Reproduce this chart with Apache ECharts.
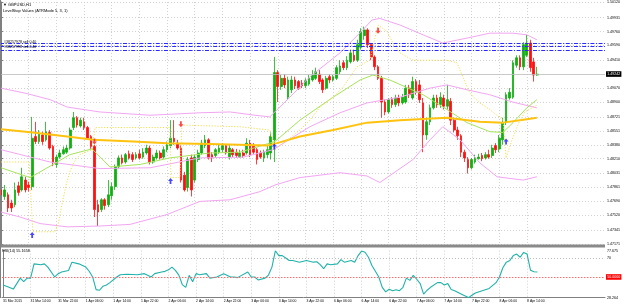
<!DOCTYPE html>
<html>
<head>
<meta charset="utf-8">
<script src="https://cdn.jsdelivr.net/npm/echarts@6/dist/echarts.min.js"></script>
<style>
html, body { margin: 0; padding: 0; background: #fff; }
#chart { width: 625px; height: 307px; }
</style>
</head>
<body>
<div id="chart"></div>
<script>
// GBPUSD H1 bars, the bar number is the position in the arrays
var barOpen = [1.4783,1.4775,1.4777,1.4767,1.4765,1.4788,1.4783,1.4795,1.4789,1.4787,
  1.4848,1.4842,1.4850,1.4844,1.4853,1.4836,1.4814,1.4823,1.4827,1.4829,
  1.4834,1.4859,1.4871,1.4861,1.4866,1.4859,1.4848,1.4836,1.4765,1.4759,
  1.4771,1.4765,1.4776,1.4787,1.4811,1.4822,1.4817,1.4827,1.4826,1.4822,
  1.4827,1.4823,1.4828,1.4834,1.4817,1.4822,1.4828,1.4823,1.4832,1.4837,
  1.4846,1.4840,1.4834,1.4801,1.4786,1.4822,1.4795,1.4820,1.4828,1.4837,
  1.4844,1.4826,1.4825,1.4829,1.4832,1.4837,1.4823,1.4832,1.4829,1.4823,
  1.4828,1.4828,1.4840,1.4837,1.4832,1.4828,1.4822,1.4826,1.4828,1.4844,
  1.4926,1.4909,1.4919,1.4896,1.4905,1.4917,1.4915,1.4913,1.4910,1.4912,
  1.4917,1.4919,1.4924,1.4917,1.4907,1.4921,1.4917,1.4919,1.4927,1.4938,
  1.4932,1.4939,1.4947,1.4941,1.4957,1.4971,1.4978,1.4960,1.4945,1.4933,
  1.4919,1.4890,1.4878,1.4893,1.4887,1.4895,1.4889,1.4890,1.4907,1.4895,
  1.4915,1.4911,1.4889,1.4850,1.4866,1.4883,1.4895,1.4887,1.4895,1.4885,
  1.4891,1.4868,1.4856,1.4849,1.4829,1.4820,1.4810,1.4817,1.4821,1.4825,
  1.4822,1.4826,1.4825,1.4837,1.4833,1.4844,1.4865,1.4895,1.4896,1.4935,
  1.4944,1.4933,1.4947,1.4962,1.4939,1.4923];
var barClose = [1.4777,1.4783,1.4761,1.4761,1.4783,1.4780,1.4799,1.4783,1.4786,1.4846,
  1.4842,1.4851,1.4842,1.4854,1.4834,1.4816,1.4823,1.4828,1.4832,1.4834,
  1.4856,1.4871,1.4862,1.4868,1.4859,1.4846,1.4836,1.4759,1.4756,1.4771,
  1.4764,1.4777,1.4787,1.4811,1.4822,1.4816,1.4826,1.4822,1.4820,1.4826,
  1.4822,1.4829,1.4834,1.4817,1.4823,1.4828,1.4822,1.4832,1.4838,1.4846,
  1.4842,1.4834,1.4795,1.4783,1.4820,1.4783,1.4823,1.4828,1.4840,1.4844,
  1.4822,1.4822,1.4832,1.4834,1.4837,1.4828,1.4834,1.4826,1.4825,1.4828,
  1.4825,1.4840,1.4826,1.4829,1.4820,1.4823,1.4829,1.4832,1.4848,1.4926,
  1.4909,1.4919,1.4911,1.4917,1.4917,1.4910,1.4907,1.4910,1.4916,1.4919,
  1.4923,1.4927,1.4915,1.4905,1.4919,1.4917,1.4921,1.4932,1.4934,1.4932,
  1.4941,1.4950,1.4941,1.4960,1.4976,1.4978,1.4960,1.4945,1.4933,1.4919,
  1.4890,1.4878,1.4893,1.4887,1.4895,1.4889,1.4896,1.4907,1.4899,1.4915,
  1.4902,1.4893,1.4850,1.4866,1.4883,1.4895,1.4887,1.4896,1.4885,1.4893,
  1.4868,1.4856,1.4849,1.4829,1.4822,1.4810,1.4820,1.4822,1.4823,1.4821,
  1.4826,1.4823,1.4834,1.4832,1.4846,1.4865,1.4899,1.4902,1.4938,1.4944,
  1.4933,1.4960,1.4962,1.4932,1.4923,1.4924];
var barLow = [1.4773,1.4771,1.4756,1.4756,1.4762,1.4776,1.4781,1.4780,1.4781,1.4783,
  1.4839,1.4839,1.4838,1.4842,1.4832,1.4812,1.4810,1.4821,1.4826,1.4827,
  1.4832,1.4856,1.4859,1.4859,1.4856,1.4844,1.4833,1.4750,1.4739,1.4756,
  1.4759,1.4762,1.4771,1.4783,1.4809,1.4814,1.4815,1.4820,1.4817,1.4820,
  1.4820,1.4821,1.4826,1.4814,1.4815,1.4820,1.4820,1.4821,1.4829,1.4834,
  1.4838,1.4832,1.4792,1.4781,1.4781,1.4775,1.4792,1.4817,1.4826,1.4834,
  1.4820,1.4817,1.4822,1.4827,1.4829,1.4826,1.4820,1.4823,1.4822,1.4822,
  1.4822,1.4826,1.4823,1.4827,1.4814,1.4821,1.4817,1.4822,1.4820,1.4817,
  1.4890,1.4905,1.4907,1.4893,1.4901,1.4906,1.4905,1.4907,1.4907,1.4910,
  1.4915,1.4917,1.4912,1.4901,1.4905,1.4913,1.4915,1.4917,1.4924,1.4929,
  1.4929,1.4937,1.4939,1.4939,1.4954,1.4966,1.4956,1.4941,1.4929,1.4917,
  1.4871,1.4874,1.4876,1.4883,1.4884,1.4885,1.4887,1.4888,1.4895,1.4893,
  1.4899,1.4889,1.4829,1.4844,1.4862,1.4881,1.4883,1.4883,1.4881,1.4881,
  1.4862,1.4853,1.4844,1.4823,1.4817,1.4803,1.4808,1.4815,1.4820,1.4818,
  1.4820,1.4821,1.4822,1.4828,1.4829,1.4838,1.4862,1.4893,1.4894,1.4932,
  1.4929,1.4929,1.4945,1.4927,1.4915,1.4922];
var barHigh = [1.4787,1.4789,1.4780,1.4771,1.4792,1.4793,1.4810,1.4799,1.4793,1.4872,
  1.4866,1.4856,1.4854,1.4866,1.4856,1.4838,1.4826,1.4832,1.4836,1.4838,
  1.4859,1.4878,1.4873,1.4871,1.4871,1.4861,1.4850,1.4838,1.4771,1.4773,
  1.4773,1.4795,1.4792,1.4814,1.4825,1.4826,1.4828,1.4831,1.4829,1.4829,
  1.4832,1.4834,1.4838,1.4837,1.4826,1.4832,1.4831,1.4836,1.4842,1.4868,
  1.4868,1.4844,1.4837,1.4805,1.4823,1.4826,1.4826,1.4832,1.4844,1.4850,
  1.4846,1.4829,1.4834,1.4838,1.4840,1.4839,1.4838,1.4834,1.4833,1.4832,
  1.4832,1.4846,1.4844,1.4840,1.4834,1.4831,1.4832,1.4838,1.4853,1.4945,
  1.4929,1.4923,1.4924,1.4921,1.4922,1.4921,1.4917,1.4917,1.4919,1.4923,
  1.4929,1.4932,1.4929,1.4919,1.4922,1.4924,1.4923,1.4935,1.4941,1.4941,
  1.4946,1.4954,1.4954,1.4966,1.4980,1.4982,1.4980,1.4962,1.4947,1.4935,
  1.4922,1.4893,1.4895,1.4896,1.4899,1.4899,1.4900,1.4911,1.4911,1.4921,
  1.4918,1.4917,1.4895,1.4871,1.4887,1.4899,1.4899,1.4902,1.4899,1.4911,
  1.4895,1.4871,1.4860,1.4851,1.4832,1.4823,1.4822,1.4826,1.4827,1.4828,
  1.4829,1.4832,1.4838,1.4840,1.4850,1.4871,1.4902,1.4907,1.4941,1.4947,
  1.4947,1.4963,1.4972,1.4966,1.4944,1.4933];

// indicator lines, [bar, price]
var slowMA = [[0,1.4857],[9.2,1.4853],[19.1,1.4848],[26.6,1.4844],[38.2,1.4842],[48,1.4840],[60.4,1.4839],
  [76.9,1.4837],[79.8,1.4840],[86.4,1.4848],[96,1.4856],[105.8,1.4865],[115.3,1.4868],[128.9,1.4871],
  [138.4,1.4866],[145.1,1.4865],[150,1.4868],[154.9,1.4871]];
var fastMA = [[0,1.4810],[8.4,1.4798],[14.2,1.4812],[19.9,1.4826],[26.3,1.4833],[31.5,1.4811],[40.2,1.4814],
  [48.8,1.4822],[60.4,1.4828],[69.1,1.4829],[79.2,1.4842],[86.4,1.4868],[96,1.4896],[103.8,1.4917],
  [107.5,1.4923],[112.4,1.4917],[122,1.4899],[128.9,1.4881],[134.7,1.4865],[141.3,1.4854],[145.1,1.4853],
  [148,1.4865],[152,1.4883],[154.9,1.4893]];
var bandUpper = [[0,1.4907],[6.9,1.4901],[14.2,1.4893],[19.1,1.4884],[28.6,1.4878],[43.1,1.4874],[57.5,1.4877],
  [66.2,1.4878],[73.4,1.4874],[77.7,1.4872],[83.5,1.4896],[89.3,1.4921],[98,1.4950],[104.6,1.4978],
  [107.2,1.4990],[109.5,1.4992],[115.3,1.4984],[122,1.4972],[127.7,1.4962],[134.7,1.4968],[141.3,1.4974],
  [148,1.4974],[152,1.4972],[154.9,1.4966]];
var bandMiddle = [[0,1.4832],[14.2,1.4817],[28.6,1.4809],[43.1,1.4810],[57.5,1.4822],[70,1.4823],[78.6,1.4832],
  [89.3,1.4860],[98,1.4877],[105.8,1.4889],[115.3,1.4896],[124,1.4907],[128.9,1.4911],[134.7,1.4905],
  [141.3,1.4899],[148,1.4890],[154.9,1.4883]];
var bandLower = [[0,1.4756],[5.5,1.4750],[11.3,1.4742],[19.1,1.4738],[28.6,1.4739],[37.3,1.4741],[48,1.4753],
  [57.5,1.4769],[66.2,1.4771],[74.9,1.4781],[79.2,1.4789],[86.4,1.4798],[98,1.4804],[105.8,1.4800],
  [109.5,1.4792],[119.1,1.4820],[124,1.4844],[127.7,1.4860],[132.7,1.4844],[138.4,1.4816],[143.4,1.4799],
  [150.9,1.4795],[154.9,1.4799]];
var levelStop = [[0,1.4817],[8.1,1.4817],[9.2,1.4732],[15.6,1.4732],[16.5,1.4741],[17.6,1.4765],[18.8,1.4789],
  [19.9,1.4805],[21.1,1.4817],[22.8,1.4826],[26.3,1.4832],[27.2,1.4859],[48.8,1.4859],[49.1,1.4798],
  [51.7,1.4798],[52.3,1.4862],[69.1,1.4860],[77.7,1.4856],[79.2,1.4832],[86.4,1.4856],[89.3,1.4868],
  [92.2,1.4884],[96,1.4896],[98.8,1.4908],[102.9,1.4933],[106.6,1.4941],[109,1.4984],[111.6,1.4976],
  [113.3,1.4962],[115.3,1.4950],[119.1,1.4941],[128.9,1.4941],[131.8,1.4938],[133.5,1.4921],[135.5,1.4901],
  [138.4,1.4889],[141.3,1.4881],[145.1,1.4868],[146,1.4822],[147.7,1.4844],[149.4,1.4862],[151.4,1.4878],
  [155.2,1.4887]];
var buyArrows = [[9,1.4728],[49,1.4794],[79,1.4836],[146,1.4842]];
var sellArrows = [[27,1.4842],[52,1.4863],[109,1.4977]];
var orderPrices = [1.49621, 1.49578, 1.49536];
var bidPrice = 1.49242;

// RSI(14), [bar, value]
var rsi = [[0,41.5],[1,40.3],[3,37.2],[5,48.8],[6,45.2],[7,48.8],[8,48.8],[9,63.8],[11,62.8],[12,63.8],
  [13,60.4],[15,50],[16,53.5],[17,55.2],[19,56.9],[20,65.6],[22,63.8],[24,60.4],[25,56],[26,50],
  [27,36.7],[28,36],[29,40.3],[30,41.5],[31,44],[33,50],[34,52.4],[36,52.8],[39,52.4],[41,53.5],
  [43,50],[44,53.5],[46,55.2],[47,55.9],[48,57.5],[49,60.4],[50,56.9],[51,52],[52,42],[53,39],
  [54,51.7],[55,45],[56,53.5],[57,52.4],[59,53.5],[60,48.8],[62,50],[64,53.5],[66,50],[67,50],
  [68,49.3],[71,55.2],[72,50],[73,50],[74,46.9],[76,48.8],[77,52],[78,60.4],[79,77.675],[80,72.5],
  [81,72.5],[82,70],[83,67.3],[84,67.3],[86,65.6],[88,67.3],[90,65.6],[91,66],[92,63],[93,58.7],
  [94,63.8],[95,62.8],[97,63.8],[98,68.3],[99,65.6],[101,67.3],[102,65.6],[103,72.5],[104,77.3],[105,76],
  [106,70.8],[107,62],[108,56],[109,50],[110,39.1],[111,34.3],[112,37],[113,35.5],[114,36.5],[115,35.5],
  [116,39.1],[117,48.8],[118,46.4],[119,51.7],[120,47.6],[121,43],[122,31.9],[123,36],[124,39.1],[126,44],
  [127,44],[128,41.5],[129,43],[130,36.7],[131,35.5],[133,31.9],[135,28.264],[136,30.7],[137,33.1],[139,35.5],
  [141,37.9],[143,44],[144,50],[145,60],[146,65.6],[147,67.3],[148,72.5],[149,74.1],[150,70.8],[151,75.9],
  [152,74.1],[153,57],[154,55.5],[155,55.17]];

// axis labels
var xTickBars = [0,8,16,24,32,40,48,56,64,72,80,88,96,104,112,120,128,136,144,152];
var xTickLabels = ['31 Mar 2015','31 Mar 14:00','31 Mar 22:00','1 Apr 06:00','1 Apr 14:00','1 Apr 22:00',
  '2 Apr 06:00','2 Apr 14:00','2 Apr 22:00','3 Apr 06:00','3 Apr 14:00','3 Apr 22:00','6 Apr 06:00',
  '6 Apr 14:00','6 Apr 22:00','7 Apr 06:00','7 Apr 14:00','7 Apr 22:00','8 Apr 06:00','8 Apr 14:00'];
var priceTicks = [1.47171,1.47341,1.47520,1.47690,1.47861,1.48031,1.48210,1.48380,1.48551,1.48721,
  1.48900,1.49070,1.49410,1.49590,1.49760,1.49931,1.50120];
var rsiTicks = [28.264, 70, 77.675];
var rsiTickText = ['28.264', '70', '77.675'];

var FONT = 'Liberation Sans';
var gridLine = { show: true, lineStyle: { color: '#c6c6c6', width: 0.8, type: [1, 2] } };

var chart = echarts.init(document.getElementById('chart'));

function indicator(data, color, width, type) {
    return {
        type: 'line', xAxisIndex: 0, yAxisIndex: 0, data: data,
        symbol: 'none', silent: true, z: 4,
        lineStyle: { color: color, width: width, type: type || 'solid' }
    };
}

var arrowPath = 'path://M5,0 L10,5 L6.8,5 L6.8,10 L3.2,10 L3.2,5 L0,5 Z';

var option = {
    animation: false,
    backgroundColor: '#ffffff',
    textStyle: { fontFamily: FONT },
    grid: [
        { left: 0, top: 2, width: 605, height: 242 },
        { left: 0, top: 250.7, width: 605, height: 46.9 }
    ],
    xAxis: [
        {
            type: 'value', gridIndex: 0, min: -0.3, max: 174.6,
            axisLine: { show: false },
            axisTick: { show: false, customValues: xTickBars },
            axisLabel: { show: false, customValues: xTickBars },
            splitLine: gridLine
        },
        {
            type: 'value', gridIndex: 1, min: -0.3, max: 174.6,
            axisLine: { show: true, lineStyle: { color: '#808080', width: 1 } },
            axisTick: { show: false, customValues: xTickBars },
            axisLabel: {
                customValues: xTickBars, fontSize: 3.4, color: '#000', margin: 2.4,
                align: 'left', fontFamily: FONT,
                formatter: function (v) {
                    var k = xTickBars.indexOf(v);
                    return k >= 0 ? xTickLabels[k] : '';
                }
            },
            splitLine: gridLine
        }
    ],
    yAxis: [
        {
            type: 'value', gridIndex: 0, position: 'right', min: 1.47171, max: 1.50120,
            axisLine: { show: true, lineStyle: { color: '#808080', width: 1 } },
            axisTick: { show: true, length: 2, customValues: priceTicks, lineStyle: { color: '#808080' } },
            axisLabel: {
                customValues: priceTicks, fontSize: 3.6, color: '#000', margin: 2, fontFamily: FONT,
                formatter: function (v) { return v.toFixed(5); }
            },
            splitLine: gridLine
        },
        {
            type: 'value', gridIndex: 1, position: 'right', min: 28.264, max: 77.675,
            axisLine: { show: true, lineStyle: { color: '#808080', width: 1 } },
            axisTick: { show: true, length: 2, customValues: rsiTicks, lineStyle: { color: '#808080' } },
            axisLabel: {
                customValues: rsiTicks, fontSize: 3.6, color: '#000', margin: 2, fontFamily: FONT,
                formatter: function (v) {
                    var k = rsiTicks.indexOf(v);
                    return k >= 0 ? rsiTickText[k] : '';
                }
            },
            splitLine: { show: false }
        }
    ],
    series: [
        {
            type: 'candlestick', xAxisIndex: 0, yAxisIndex: 0, z: 3,
            data: barOpen.map(function (o, k) { return [k, o, barClose[k], barLow[k], barHigh[k]]; }),
            encode: { x: 0, y: [1, 2, 3, 4] },
            barWidth: 2.2,
            itemStyle: {
                color: '#10b010', color0: '#ff1010',
                borderColor: '#10b010', borderColor0: '#ff1010', borderWidth: 0.8
            },
            markLine: {
                silent: true, symbol: 'none', animation: false, precision: 5,
                data: [
                    {
                        yAxis: bidPrice,
                        lineStyle: { color: '#bdbdbd', type: 'solid', width: 0.8 },
                        label: {
                            show: true, position: 'end', distance: 1,
                            formatter: bidPrice.toFixed(5),
                            backgroundColor: '#000', color: '#fff', fontSize: 3.6,
                            padding: [0.8, 1.2], fontFamily: FONT
                        }
                    }
                ].concat(orderPrices.map(function (p) {
                    return {
                        yAxis: p,
                        lineStyle: { color: '#2a2aff', type: [4, 1.5, 1.2, 1.5], width: 1 },
                        label: { show: false }
                    };
                }))
            }
        },
        indicator(bandUpper, '#f2a6f2', 1),
        indicator(bandMiddle, '#f2a6f2', 1),
        indicator(bandLower, '#f2a6f2', 1),
        indicator(fastMA, '#a6e35a', 1),
        indicator(slowMA, '#ffc20e', 2),
        indicator(levelStop, '#f2df55', 1, [1.2, 1.6]),
        {
            type: 'scatter', xAxisIndex: 0, yAxisIndex: 0, data: buyArrows, z: 6, silent: true,
            symbol: arrowPath, symbolSize: [5, 6], itemStyle: { color: '#1a1aff' }
        },
        {
            type: 'scatter', xAxisIndex: 0, yAxisIndex: 0, data: sellArrows, z: 6, silent: true,
            symbol: arrowPath, symbolSize: [5, 6], symbolRotate: 180, itemStyle: { color: '#ff1a1a' }
        },
        {
            type: 'line', xAxisIndex: 1, yAxisIndex: 1, data: rsi, symbol: 'none', silent: true, z: 4,
            lineStyle: { color: '#20b2aa', width: 1.1 },
            markLine: {
                silent: true, symbol: 'none', animation: false, precision: 4,
                data: [
                    { yAxis: 70, lineStyle: { color: '#a8a8a8', type: [1, 2], width: 0.8 }, label: { show: false } },
                    {
                        yAxis: 50, lineStyle: { color: '#ff6a6a', type: [1.5, 1.5], width: 1 },
                        label: {
                            show: true, position: 'end', distance: 1, formatter: '50.0000',
                            backgroundColor: '#ff0000', color: '#fff', fontSize: 3.6,
                            padding: [0.8, 1.2], fontFamily: FONT
                        }
                    }
                ]
            }
        }
    ],
    graphic: [
        { type: 'rect', shape: { x: 0, y: 244.6, width: 605, height: 3 }, style: { fill: '#8a8a8a' }, z: 10 },
        { type: 'rect', shape: { x: 0, y: 0, width: 1, height: 298 }, style: { fill: '#808080' }, z: 10 },
        { type: 'text', left: 3, top: 3, style: { text: '\u25BC GBPUSD,H1', fontSize: 4, fill: '#000', fontFamily: FONT }, z: 10 },
        { type: 'text', left: 3, top: 9, style: { text: 'LevelStop Values (ATRMode 5, 3, 1)', fontSize: 4, fill: '#000', fontFamily: FONT }, z: 10 },
        { type: 'text', left: 4, top: 40, style: { text: '#38257978 sell 0.40', fontSize: 3.6, fill: '#000', fontFamily: FONT }, z: 10 },
        { type: 'text', left: 4, top: 45, style: { text: '#38257998 sell 0.40', fontSize: 3.6, fill: '#000', fontFamily: FONT }, z: 10 },
        { type: 'text', left: 2, top: 249, style: { text: 'RSI(14) 55.1658', fontSize: 3.8, fill: '#000', fontFamily: FONT }, z: 10 }
    ]
};

chart.setOption(option);
</script>
</body>
</html>
